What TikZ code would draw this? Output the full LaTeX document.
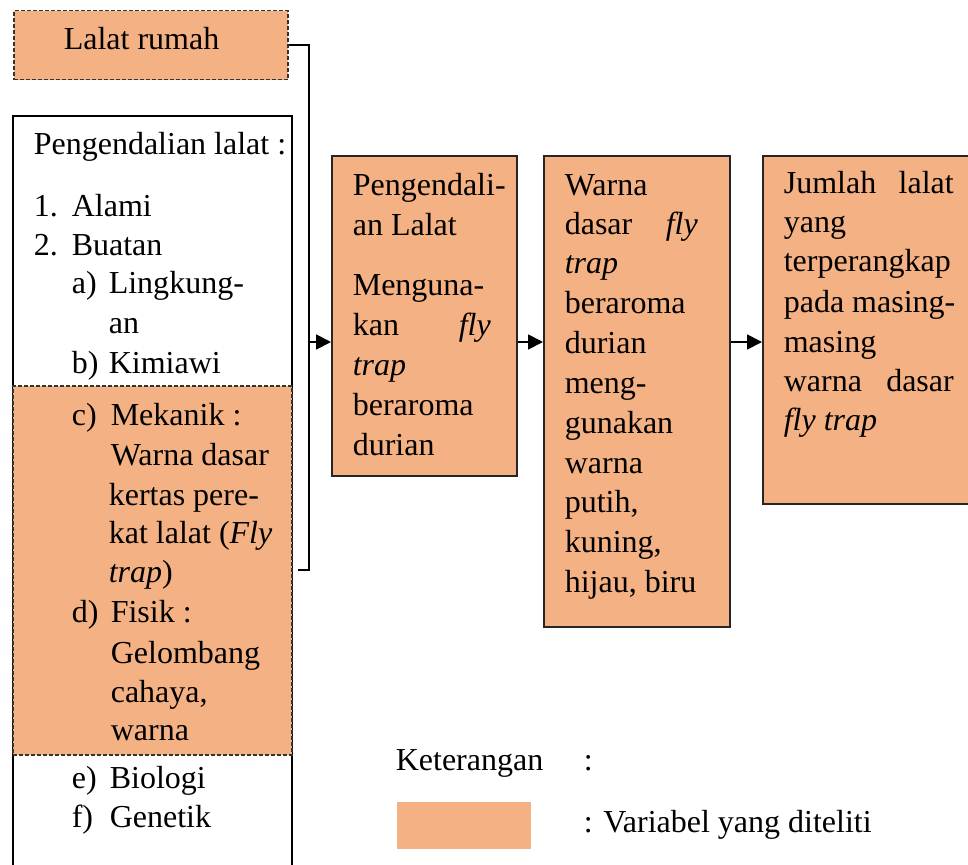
\documentclass[tikz,border=0pt]{standalone}
\usepackage{fontspec}
\setmainfont{Liberation Serif}
\usetikzlibrary{arrows.meta}
\definecolor{peach}{RGB}{244,177,131}

\begin{document}
\begin{tikzpicture}[x=1pt, y=-1pt, line width=1.6pt, font=\fontsize{32}{40}\selectfont]
    \tikzstyle{varbox}=[draw=black!85, fill=peach, line width=2pt, anchor=north west, inner sep=0pt]
    \tikzstyle{dashbox}=[draw=black!80, fill=peach, dash pattern=on 4pt off 2pt, line width=1.5pt, anchor=north west, inner sep=0pt]
    \tikzstyle{txt}=[anchor=base west, inner sep=0pt]
    \tikzstyle{marrs}=[line width=1.8pt, -{Triangle[length=15pt, width=15pt]}]

    \useasboundingbox (0,0) rectangle (968,864);

    % left column
    \node[dashbox, minimum width=274, minimum height=69] (fly) at (13,10) {};
    \node[txt] (flytxt) at (63,50) {Lalat rumah};

    \node[draw, line width=1.8pt, anchor=north west, inner sep=0pt, minimum width=279, minimum height=780] (ctrlbox) at (12,115) {};
    \node[dashbox, minimum width=279, minimum height=369] (studied) at (12,385) {};

    \foreach \y/\x/\t [count=\i] in {154/33/{Pengendalian lalat :},
            216/33/1., 216/71/Alami, 255/33/2., 255/71/Buatan,
            293/71/a), 293/108/Lingkung-, 333/108/an, 373/71/b), 373/108/Kimiawi,
            425/71/c), 425/110/Mekanik :, 465/110/Warna dasar, 505/108/kertas pere-,
            543/108/{kat lalat (\textit{Fly}}, 582/108/{\textit{trap})},
            622/71/d), 622/110/Fisik :, 663/110/Gelombang, 702/110/{cahaya,}, 740/110/warna,
            788/71/e), 788/109/Biologi, 827/71/f), 827/109/Genetik} {
        \node[txt] (ctrl\i) at (\x,\y) {\t};
    }

    % flow boxes
    \node[varbox, minimum width=185, minimum height=320] (method) at (331,155) {};
    \foreach \y/\t [count=\i] in {195/Pengendali-, 235/an Lalat, 295/Menguna-,
            335/{\makebox[138pt][s]{kan\hfill\textit{fly}}}, 375/\textit{trap},
            415/beraroma, 455/durian} {
        \node[txt] (method\i) at (352,\y) {\t};
    }

    \node[varbox, minimum width=186, minimum height=471] (colour) at (543,155) {};
    \foreach \y/\t [count=\i] in {195/Warna,
            234/{\makebox[133pt][s]{dasar\hfill\textit{fly}}}, 273/\textit{trap},
            313/beraroma, 353/durian, 393/meng-, 433/gunakan, 473/warna,
            512/{putih,}, 552/{kuning,}, 592/{hijau, biru}} {
        \node[txt] (colour\i) at (564,\y) {\t};
    }

    \node[varbox, minimum width=220, minimum height=348] (count) at (762,155) {};
    \foreach \y/\t [count=\i] in {193/{\makebox[170pt][s]{Jumlah\hfill lalat}},
            232/yang, 271/terperangkap, 312/pada masing-, 352/masing,
            391/{\makebox[170pt][s]{warna\hfill dasar}}, 430/\textit{fly trap}} {
        \node[txt] (count\i) at (783,\y) {\t};
    }

    % connectors
    \coordinate (join) at (309,342);
    \coordinate (bend) at (309,570);
    \coordinate (brk) at (298,570);
    \draw (fly.east) -| (bend) -- (brk);
    \draw[marrs] (join) -- (join -| method.west);
    \draw[marrs] (join -| method.east) -- (join -| colour.west);
    \draw[marrs] (join -| colour.east) -- (join -| count.west);

    % legend
    \node[txt] (key) at (395,770) {Keterangan};
    \node[txt] (keycolon) at (583,770) {:};
    \node[fill=peach, anchor=north west, inner sep=0pt, minimum width=134, minimum height=47] (swatch) at (396,801) {};
    \node[txt] (keytxt) at (583,832) {: Variabel yang diteliti};
\end{tikzpicture}
\end{document}
